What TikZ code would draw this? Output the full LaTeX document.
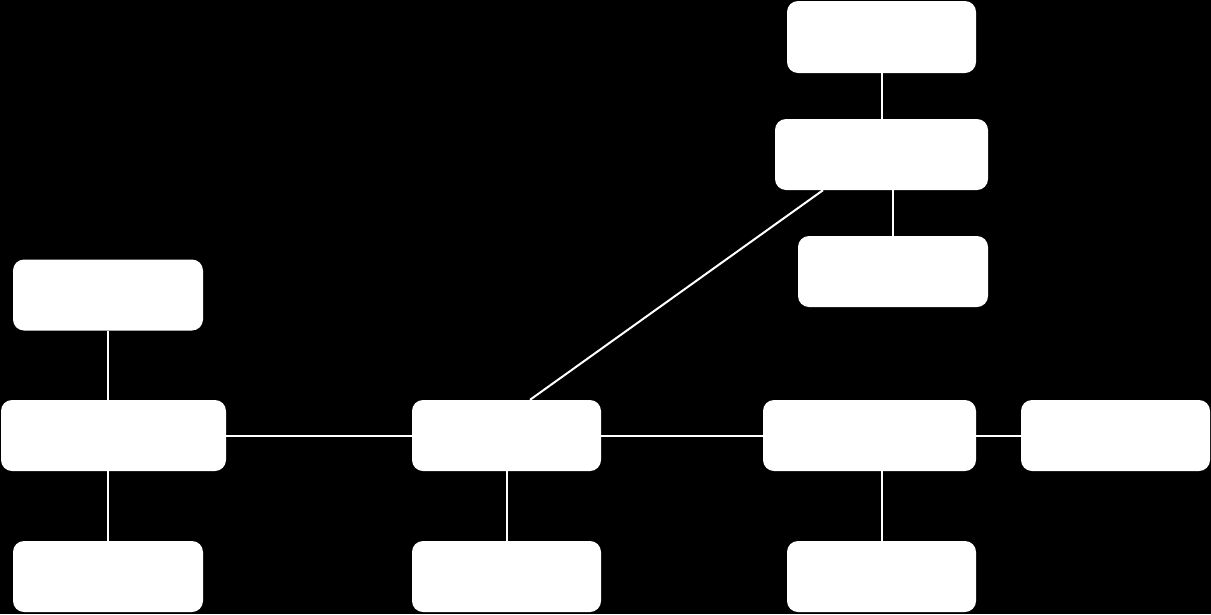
\documentclass[tikz,border=0pt]{standalone}
\begin{document}
\begin{tikzpicture}[x=1pt,y=-1pt,
  box/.style={rectangle, rounded corners=11pt, fill=white, draw=none, inner sep=0pt, minimum height=71pt},
  link/.style={draw=white, line width=2pt}]
\fill[black] (0,0) rectangle (1211,614);
\useasboundingbox (0,0) rectangle (1211,614);
\node[box, minimum width=190pt] (A) at (108,295) {};
\node[box, minimum width=225pt] (B) at (113.5,435.5) {};
\node[box, minimum width=190pt] (C) at (108,576.5) {};
\node[box, minimum width=189pt] (D) at (506.5,435.5) {};
\node[box, minimum width=189pt] (E) at (506.5,576.5) {};
\node[box, minimum width=213pt] (F) at (869.5,435.5) {};
\node[box, minimum width=189pt] (G) at (1115.5,435.5) {};
\node[box, minimum width=189pt] (H) at (881.5,576.5) {};
\node[box, minimum width=189pt, minimum height=72pt] (I) at (881.5,37) {};
\node[box, minimum width=213pt] (J) at (881.5,154.5) {};
\node[box, minimum width=190pt] (K) at (893,271.5) {};
\draw[link] (A.south) -- (A.south |- B.north);
\draw[link] (A.south |- B.south) -- (A.south |- C.north);
\draw[link] (B.east |- D.west) -- (D.west);
\draw[link] (D.south) -- (E.north);
\draw[link] (D.east) -- (F.west);
\draw[link] (F.east) -- (G.west);
\draw[link] (H.north |- F.south) -- (H.north);
\draw[link] (I.south) -- (I.south |- J.north);
\draw[link] (K.north |- J.south) -- (K.north);
\draw[link] ([xshift=23.5pt]D.north) -- ([xshift=-58.5pt]J.south);
\end{tikzpicture}
\end{document}
